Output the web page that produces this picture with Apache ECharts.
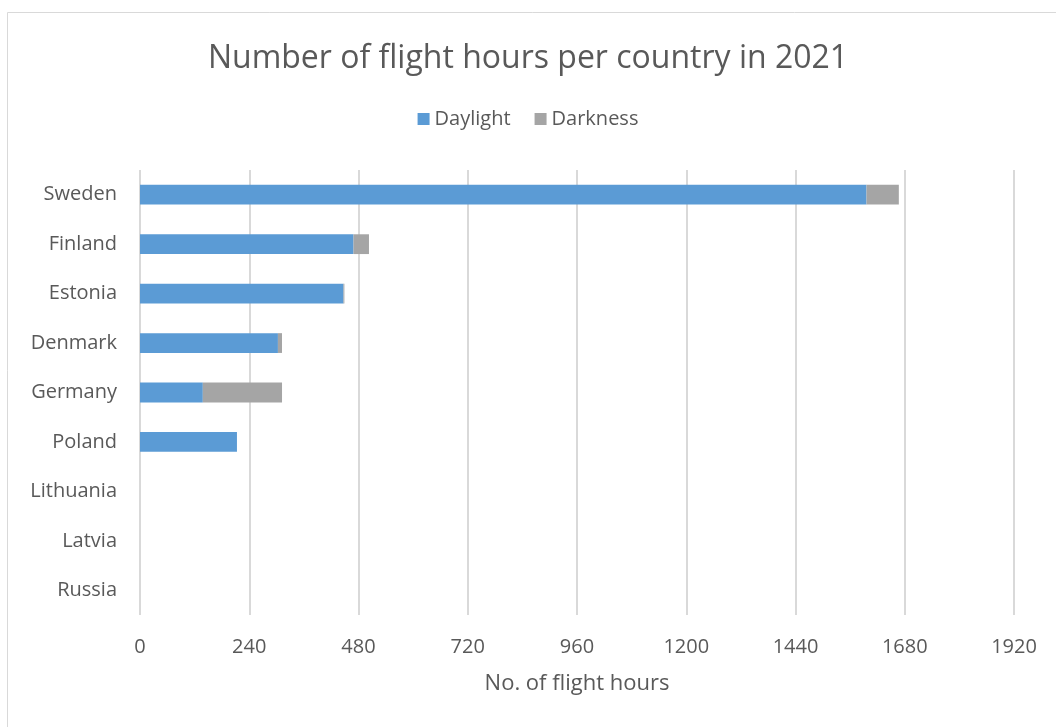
<!DOCTYPE html>
<html>
<head>
<meta charset="utf-8">
<script src="https://cdn.jsdelivr.net/npm/echarts@6/dist/echarts.min.js"></script>
<style>
html,body{margin:0;padding:0;background:#fff;}
#c{width:1056px;height:727px;}
</style>
</head>
<body>
<div id="c"></div>
<script>
const categories = ["Sweden","Finland","Estonia","Denmark","Germany","Poland","Lithuania","Latvia","Russia"];
const daylight = [1596, 469, 447, 303, 138, 213, 0, 0, 0];
const darkness = [71, 34, 2, 9, 174, 0, 0, 0, 0];
const xTicks = {min: 0, max: 1920, interval: 240};

const chart = echarts.init(document.getElementById('c'));
const font = "'Open Sans', sans-serif";
chart.setOption({
  animation: false,
  backgroundColor: '#fff',
  graphic: [{
    type: 'rect', left: 5, top: 10,
    shape: {width: 1060, height: 730},
    style: {fill: 'none', stroke: '#d9d9d9', lineWidth: 1}
  }],
  title: {
    text: 'Number of flight hours per country in 2021',
    left: 'center', top: 38,
    textStyle: {fontFamily: font, fontSize: 32, fontWeight: 'normal', color: '#595959'}
  },
  legend: {
    top: 104, left: 'center',
    itemWidth: 12, itemHeight: 12, itemGap: 24,
    icon: 'rect',
    textStyle: {fontFamily: font, fontSize: 20, color: '#595959'},
    data: ['Daylight','Darkness']
  },
  grid: {left: 140, right: 42, top: 170, bottom: 112, containLabel: false},
  xAxis: {
    type: 'value', min: xTicks.min, max: xTicks.max, interval: xTicks.interval,
    name: 'No. of flight hours', nameLocation: 'middle', nameGap: 58,
    nameTextStyle: {fontFamily: font, fontSize: 22, color: '#595959'},
    axisLine: {show: false}, axisTick: {show: false},
    axisLabel: {fontFamily: font, fontSize: 20, color: '#595959', margin: 22,
                formatter: v => String(v)},
    splitLine: {lineStyle: {color: '#d9d9d9', width: 2}}
  },
  yAxis: {
    type: 'category', data: categories, inverse: true,
    axisLine: {show: false}, axisTick: {show: false},
    axisLabel: {fontFamily: font, fontSize: 20, color: '#595959', margin: 23}
  },
  series: [
    {name: 'Daylight', type: 'bar', stack: 't', data: daylight, barCategoryGap: '60%',
     itemStyle: {color: '#5b9bd5'}},
    {name: 'Darkness', type: 'bar', stack: 't', data: darkness, barCategoryGap: '60%',
     itemStyle: {color: '#a5a5a5'}}
  ]
});
</script>
</body>
</html>
